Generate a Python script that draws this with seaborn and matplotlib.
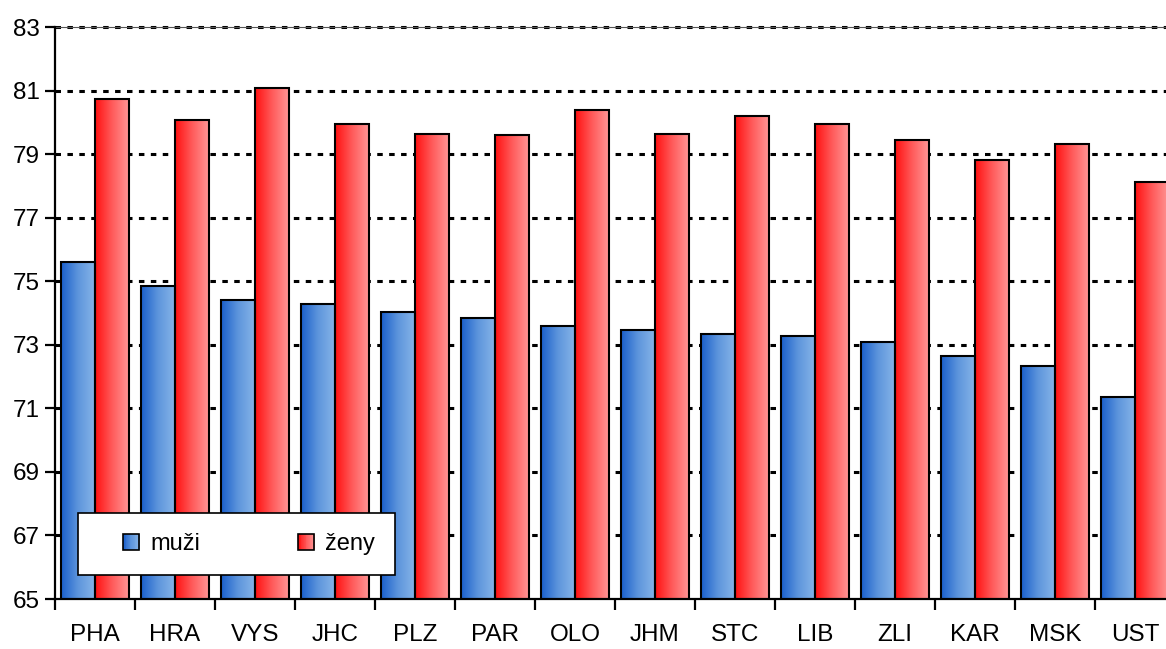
import numpy as np
import pandas as pd
import matplotlib
matplotlib.use("Agg")
import matplotlib.pyplot as plt
import seaborn as sns
from matplotlib.patches import Rectangle
from matplotlib.legend_handler import HandlerBase
from matplotlib.colors import LinearSegmentedColormap

# data
regions = ["PHA", "HRA", "VYS", "JHC", "PLZ", "PAR", "OLO",
           "JHM", "STC", "LIB", "ZLI", "KAR", "MSK", "UST"]
muzi = [75.6, 74.85, 74.4, 74.28, 74.02, 73.85, 73.6,
        73.46, 73.34, 73.28, 73.08, 72.65, 72.33, 71.37]
zeny = [80.75, 80.07, 81.07, 79.95, 79.63, 79.6, 80.39,
        79.63, 80.2, 79.95, 79.44, 78.81, 79.32, 78.12]
series = ["muži", "ženy"]
y_ticks = [65, 67, 69, 71, 73, 75, 77, 79, 81, 83]

blue_cmap = LinearSegmentedColormap.from_list("b", ["#1a5fcc", "#5d95dc", "#86b4e8"])
red_cmap = LinearSegmentedColormap.from_list("r", ["#ff1010", "#ff5a5a", "#ff9696"])

df = pd.DataFrame({
    "kraj": regions * 2,
    "hodnota": muzi + zeny,
    "pohlavi": [series[0]] * len(regions) + [series[1]] * len(regions),
})

sns.set_style("white")
plt.rcParams["font.family"] = ["Liberation Sans", "DejaVu Sans"]
plt.rcParams["text.color"] = "black"
plt.rcParams["xtick.color"] = "black"
plt.rcParams["ytick.color"] = "black"

fig = plt.figure(figsize=(11.66, 6.49), dpi=100)
ax = fig.add_axes([55 / 1166, 50 / 649, 1120 / 1166, 572 / 649])

sns.barplot(data=df, x="kraj", y="hodnota", hue="pohlavi", order=regions,
            hue_order=series, palette=["#5d95dc", "#ff5a5a"], width=0.84,
            gap=0, edgecolor="black", linewidth=1.5, ax=ax, legend=False,
            saturation=1, zorder=3)

ymin, ymax = y_ticks[0], y_ticks[-1]
n = len(regions)

# gradient fill inside each bar
grad = np.linspace(0, 1, 256).reshape(1, -1)
bars = [p for p in ax.patches if isinstance(p, Rectangle)]
for i, p in enumerate(bars):
    cmap = blue_cmap if i < n else red_cmap
    x0 = p.get_x()
    w = p.get_width()
    top = p.get_y() + p.get_height()
    ax.imshow(grad, cmap=cmap, aspect="auto", extent=[x0, x0 + w, ymin, top],
              zorder=2.5, interpolation="bicubic")
    p.set_facecolor("none")
    p.set_zorder(3)

ax.set_xlim(-0.5, n - 0.5)
ax.set_ylim(ymin, ymax)
ax.set_yticks(y_ticks)
ax.set_xlabel("")
ax.set_ylabel("")

# dotted grid
for v in y_ticks[1:]:
    ax.axhline(v, color="black", lw=2.2, ls=(0, (1.8, 2.1)), zorder=1,
               clip_on=False)
ax.axhline(ymax, color="#555555", lw=0.8, zorder=1, clip_on=False)

for s in ["top", "right"]:
    ax.spines[s].set_visible(False)
for s in ["left", "bottom"]:
    ax.spines[s].set_color("black")
    ax.spines[s].set_linewidth(1.6)
    ax.spines[s].set_zorder(4)

ax.tick_params(axis="y", which="major", length=7, width=1.6, color="black",
               labelsize=17.5, pad=4, direction="out", left=True)
ax.tick_params(axis="x", which="major", length=0, labelsize=17.5, pad=18)
ax.set_xticks(np.arange(-0.5, n, 1), minor=True)
ax.tick_params(axis="x", which="minor", length=8, width=1.6, color="black",
               direction="out", bottom=True)


class GradientHandler(HandlerBase):
    def __init__(self, cmap):
        super().__init__()
        self.cmap = cmap

    def create_artists(self, legend, orig_handle, xdescent, ydescent,
                       width, height, fontsize, trans):
        side = min(width, height)
        x0 = -xdescent + (width - side)
        y0 = -ydescent + (height - side) / 2
        arts = []
        k = 20
        for j in range(k):
            arts.append(Rectangle((x0 + side * j / k, y0), side / k + 0.3, side,
                                  facecolor=self.cmap(j / (k - 1)),
                                  edgecolor="none", transform=trans))
        arts.append(Rectangle((x0, y0), side, side, facecolor="none",
                              edgecolor="black", lw=1.2, transform=trans))
        return arts


handles = [Rectangle((0, 0), 1, 1) for _ in series]
leg = ax.legend(handles, series, loc="lower left",
                bbox_to_anchor=((78 - 55) / 1120, (599 - 575) / 572,
                                (395 - 78) / 1120, (575 - 514) / 572),
                mode="expand", ncol=2, fontsize=17, frameon=True,
                fancybox=False, borderaxespad=0, handlelength=1.75,
                handleheight=0.68, handletextpad=0.45, borderpad=0.85,
                handler_map={handles[0]: GradientHandler(blue_cmap),
                             handles[1]: GradientHandler(red_cmap)})
leg.get_frame().set_edgecolor("black")
leg.get_frame().set_linewidth(1.2)
leg.get_frame().set_alpha(1)
leg.set_zorder(5)

fig.savefig("out.png", dpi=100)
